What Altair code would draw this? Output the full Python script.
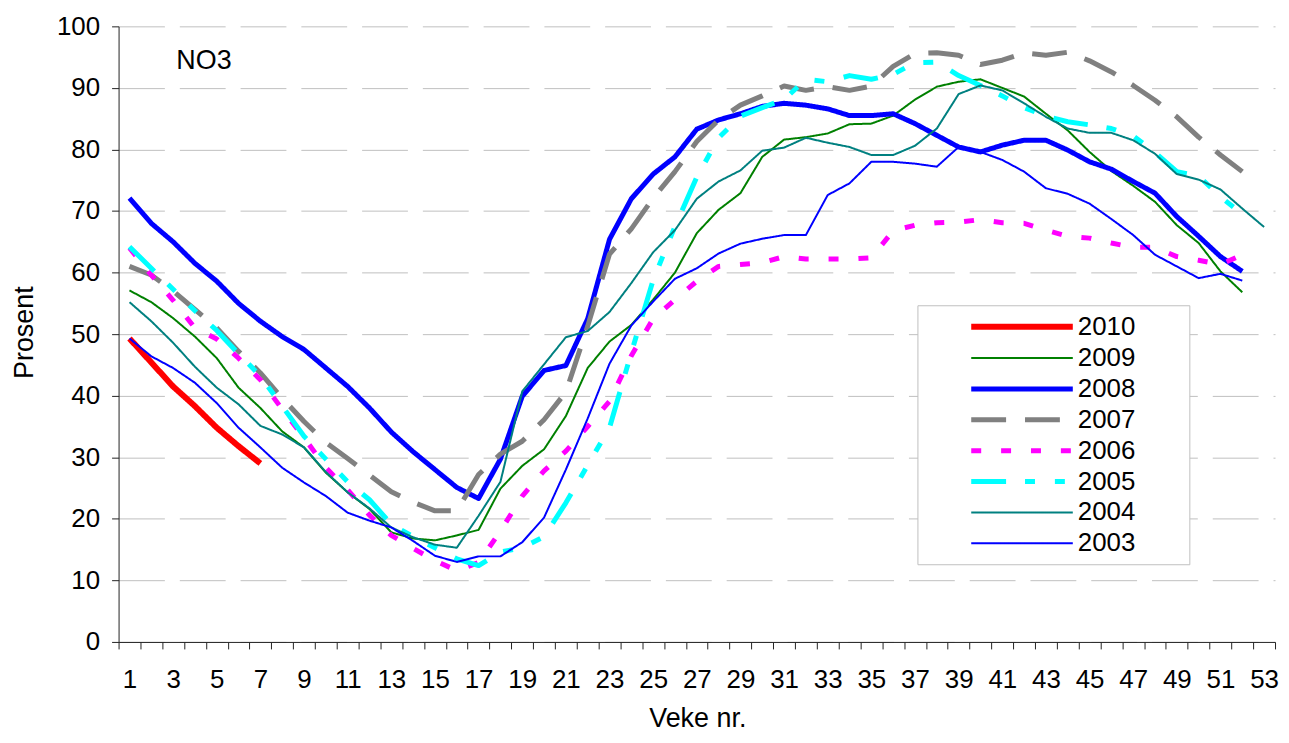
import altair as alt
import pandas as pd

years = ["2010", "2009", "2008", "2007", "2006", "2005", "2004", "2003"]

y2010 = [49.3, 45.4, 41.5, 38.3, 34.8, 31.8, 29.0]
y2009 = [57.1, 55.2, 52.6, 49.6, 46.1, 41.3, 38.0, 34.2, 31.6, 27.5,
         24.3, 21.6, 17.8, 16.8, 16.5, 17.3, 18.2, 24.9, 28.6, 31.3,
         36.7, 44.5, 48.8, 51.5, 55.6, 60.0, 66.4, 70.2, 72.9, 78.8,
         81.6, 82.0, 82.6, 84.1, 84.2, 85.5, 88.1, 90.2, 91.0, 91.4,
         90.0, 88.6, 85.8, 83.1, 79.6, 76.5, 74.1, 71.5, 67.7, 64.8,
         60.2, 56.8]
y2008 = [72.1, 68.0, 65.0, 61.5, 58.6, 55.0, 52.1, 49.6, 47.5, 44.5,
         41.5, 38.0, 34.1, 30.9, 28.0, 25.1, 23.3, 29.7, 39.9, 44.1,
         44.9, 52.5, 65.4, 72.0, 76.0, 78.8, 83.3, 84.8, 85.8, 87.0,
         87.5, 87.2, 86.6, 85.5, 85.5, 85.8, 84.2, 82.3, 80.4, 79.6,
         80.7, 81.5, 81.5, 79.9, 78.0, 76.8, 74.8, 72.9, 69.1, 65.9,
         62.6, 60.2]
y2007 = [61.0, 59.6, 57.0, 54.0, 51.0, 47.2, 43.7, 39.6, 35.8, 32.4,
         29.8, 27.1, 24.4, 22.7, 21.3, 21.3, 27.2, 30.5, 32.6, 36.1,
         40.6, 51.3, 63.0, 67.1, 72.1, 76.4, 81.3, 84.8, 87.2, 88.7,
         90.3, 89.6, 90.2, 89.6, 90.3, 93.5, 95.6, 95.7, 95.3, 93.8,
         94.5, 95.7, 95.3, 95.8, 94.4, 92.6, 90.4, 88.0, 85.3, 82.0,
         79.1, 76.4]
y2006 = [64.0, 59.6, 55.5, 51.0, 49.2, 46.1, 42.6, 37.8, 33.2, 28.3,
         24.7, 20.6, 17.3, 15.2, 13.2, 11.6, 12.9, 18.0, 23.7, 27.8,
         31.0, 35.0, 39.1, 46.5, 52.5, 55.6, 58.6, 61.0, 61.3, 61.6,
         62.6, 62.2, 62.2, 62.2, 62.4, 66.8, 67.7, 68.1, 68.2, 68.6,
         68.1, 68.0, 66.9, 65.9, 65.6, 64.8, 64.1, 64.1, 62.6, 62.0,
         61.3, 62.9]
y2005 = [64.2, 60.7, 57.3, 53.8, 50.6, 46.8, 43.2, 38.3, 33.4, 29.7,
         26.0, 23.1, 19.1, 17.1, 15.3, 13.5, 12.4, 14.6, 15.3, 17.1,
         22.6, 28.7, 34.8, 47.0, 58.8, 67.5, 75.5, 81.9, 85.4, 86.8,
         88.1, 91.4, 91.0, 92.0, 91.4, 92.2, 94.1, 94.2, 92.0, 90.4,
         88.7, 86.8, 85.4, 84.5, 84.0, 83.4, 82.2, 79.5, 76.4, 75.7,
         72.3, 69.5]
y2004 = [55.2, 52.1, 48.6, 44.7, 41.3, 38.6, 35.1, 33.7, 31.6, 27.6,
         24.3, 21.7, 18.6, 17.0, 15.8, 15.3, 20.5, 26.0, 40.7, 45.1,
         49.5, 50.5, 53.6, 58.3, 63.3, 66.9, 72.0, 74.8, 76.6, 79.8,
         80.3, 81.9, 81.1, 80.4, 79.1, 79.1, 80.6, 83.4, 89.0, 90.4,
         89.6, 87.5, 85.3, 83.4, 82.7, 82.7, 81.5, 79.3, 76.0, 75.1,
         73.5, 70.4, 67.4]
y2003 = [49.3, 46.4, 44.5, 42.1, 38.8, 34.8, 31.6, 28.3, 25.9, 23.7,
         21.0, 19.7, 18.6, 16.4, 14.0, 13.0, 13.9, 13.9, 16.2, 20.2,
         28.0, 36.3, 45.2, 51.4, 55.3, 59.0, 60.7, 63.1, 64.7, 65.5,
         66.1, 66.1, 72.6, 74.5, 78.0, 78.0, 77.7, 77.2, 80.4, 79.6,
         78.3, 76.4, 73.7, 72.8, 71.2, 68.7, 66.1, 62.9, 61.0, 59.1,
         59.8, 58.7]

series = [y2010, y2009, y2008, y2007, y2006, y2005, y2004, y2003]

colors = ["#FF0000", "#008000", "#0000FF", "#808080", "#FF00FF", "#00FFFF", "#008080", "#0000FF"]
widths = [6, 2, 5, 5, 5, 5, 2, 2]
dashes = [[1, 0], [1, 0], [1, 0], [35, 19], [10, 20], [35, 19, 10, 20, 10, 20], [1, 0], [1, 0]]

x_label_weeks = list(range(1, 54, 2))
x_tick_bounds = [w + 0.5 for w in range(0, 54)]
x_axis_values = sorted(x_label_weeks + x_tick_bounds)
y_ticks = list(range(0, 101, 10))

rows = []
for yr, vals in zip(years, series):
    for i, v in enumerate(vals):
        rows.append({"year": yr, "week": i + 1, "value": v})
df = pd.DataFrame(rows)

FONT = "Liberation Sans"


def leg():
    return alt.Legend(title="\u00a0", titleOrient="right", titlePadding=46,
                      titleFontSize=26, titleFont=FONT)


chart = alt.Chart(df, title=alt.TitleParams(
    "NO3", anchor="start", frame="group", orient="top", offset=-83, dx=58,
    fontSize=27, fontWeight="normal", font=FONT, color="#000000", baseline="alphabetic"
)).mark_line(strokeJoin="round", strokeCap="butt").encode(
    x=alt.X("week:Q",
            scale=alt.Scale(domain=[0.5, 53.5], nice=False, zero=False),
            axis=alt.Axis(values=x_axis_values, title="Veke nr.",
                          labelExpr="datum.value % 2 == 1 ? '' + datum.value : ''",
                          tickOpacity={"condition": {"test": "datum.value % 1 == 0", "value": 0}, "value": 1},
                          tickSize=7, labelPadding=18, labelFlush=False, labelOverlap=False,
                          grid=False, titleX=581, titleY=85, titleBaseline="alphabetic",
                          titleAlign="center")),
    y=alt.Y("value:Q",
            scale=alt.Scale(domain=[0, 100], nice=False),
            axis=alt.Axis(values=y_ticks, title="Prosent", tickSize=7, labelPadding=12,
                          grid=True, gridDash=[46, 15], gridColor="#c0c0c0",
                          titleX=-94, titleY=307, titleAngle=-90, titleBaseline="middle",
                          titleAlign="center")),
    color=alt.Color("year:N", scale=alt.Scale(domain=years, range=colors), legend=leg()),
    strokeWidth=alt.StrokeWidth("year:N", scale=alt.Scale(type="ordinal", domain=years, range=widths),
                                legend=leg()),
    strokeDash=alt.StrokeDash("year:N", scale=alt.Scale(type="ordinal", domain=years, range=dashes),
                              legend=leg()),
    detail="year:N",
).properties(
    width=1161, height=618,
    autosize=alt.AutoSizeParams(type="none"),
    padding={"left": 111, "top": 17, "right": 6, "bottom": 92},
).configure_view(stroke=None).configure_axis(
    labelFont=FONT, labelFontSize=26, labelColor="#000000",
    titleFont=FONT, titleFontSize=27, titleFontWeight="normal", titleColor="#000000",
    domainColor="#222222", tickColor="#222222", domainWidth=1, tickWidth=1,
).configure_legend(
    orient="none", legendX=802, legendY=280,
    symbolType="M-5,0H5", symbolSize=416, symbolOffset=83.5,
    labelFont=FONT, labelFontSize=26, labelColor="#000000", labelOffset=42.5,
    rowPadding=5, padding=8, fillColor="#FFFFFF", strokeColor="#c0c0c0",
)

chart.save("out.html", embed_options={"renderer": "svg", "actions": False})
